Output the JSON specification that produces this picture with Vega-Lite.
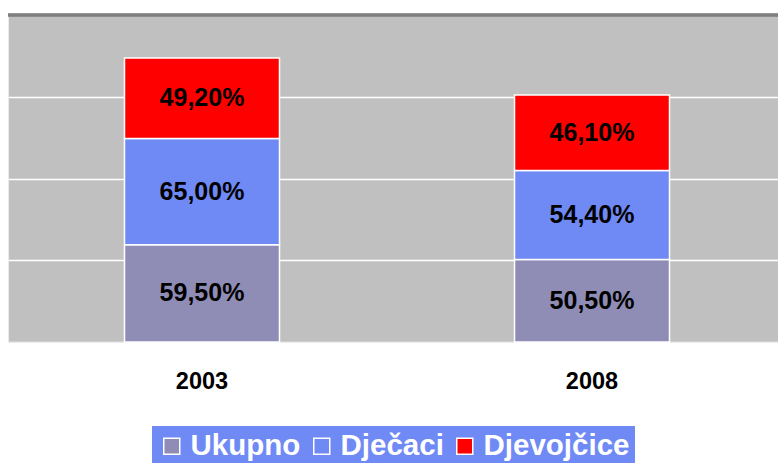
{
  "$schema": "https://vega.github.io/schema/vega-lite/v6.json",
  "width": 770,
  "height": 327,
  "autosize": "none",
  "padding": {"left": 8, "top": 15, "right": 0, "bottom": 121},
  "background": "white",
  "data": {
    "values": [
      {"year": "2003", "series": "Ukupno", "value": 59.5, "label": "59,50%"},
      {"year": "2003", "series": "Dječaci", "value": 65.0, "label": "65,00%"},
      {"year": "2003", "series": "Djevojčice", "value": 49.2, "label": "49,20%"},
      {"year": "2008", "series": "Ukupno", "value": 50.5, "label": "50,50%"},
      {"year": "2008", "series": "Dječaci", "value": 54.4, "label": "54,40%"},
      {"year": "2008", "series": "Djevojčice", "value": 46.1, "label": "46,10%"}
    ]
  },
  "transform": [
    {"stack": "value", "groupby": ["year"], "sort": [{"field": "series", "order": "descending"}], "as": ["v0", "v1"]},
    {"calculate": "(datum.v0 + datum.v1) / 2", "as": "mid"}
  ],
  "layer": [
    {
      "mark": {"type": "bar", "stroke": "white", "strokeWidth": 1.5},
      "encoding": {
        "x": {
          "field": "year", "type": "nominal",
          "scale": {"range": [0, 778], "paddingInner": 0.6026, "paddingOuter": 0.2987},
          "axis": {
            "title": null, "labelAngle": 0, "ticks": false, "domainColor": "#ececec", "domainWidth": 1,
            "labelFont": "Liberation Sans", "labelFontSize": 23.5, "labelFontWeight": "bold", "labelColor": "black",
            "labelPadding": 27
          }
        },
        "y": {
          "field": "v0", "type": "quantitative",
          "scale": {"domain": [0, 200], "nice": false}
        },
        "y2": {"field": "v1"},
        "color": {
          "field": "series", "type": "nominal",
          "scale": {"domain": ["Ukupno", "Dječaci", "Djevojčice"], "range": ["#8f8db5", "#6f8af5", "#ff0000"]},
          "legend": {
            "title": null, "orient": "none", "direction": "horizontal", "legendX": 144, "legendY": 411,
            "fillColor": "#6f8af5", "padding": 5,
            "symbolType": "square", "symbolSize": 256, "symbolStrokeColor": "white", "symbolStrokeWidth": 1.5,
            "labelFont": "Liberation Sans", "labelFontSize": 29.5, "labelFontWeight": "bold", "labelColor": "white",
            "labelOffset": 4, "columnPadding": 6, "labelLimit": 300
          }
        }
      }
    },
    {
      "mark": {"type": "rule", "color": "#808080", "strokeWidth": 2.5},
      "encoding": {
        "y": {"datum": 200, "type": "quantitative"}
      }
    },
    {
      "mark": {"type": "text", "font": "Liberation Sans", "fontSize": 25, "fontWeight": "bold", "color": "black", "baseline": "middle"},
      "encoding": {
        "x": {"field": "year", "type": "nominal"},
        "y": {"field": "mid", "type": "quantitative"},
        "text": {"field": "label"}
      }
    }
  ],
  "config": {
    "view": {"fill": "#c0c0c0", "stroke": null},
    "axisY": {
      "title": null, "labels": false, "ticks": false, "tickCount": 4,
      "domainColor": "#ececec", "domainWidth": 1,
      "grid": true, "gridColor": "#ffffff", "gridWidth": 1.5, "gridOpacity": 1
    }
  }
}
